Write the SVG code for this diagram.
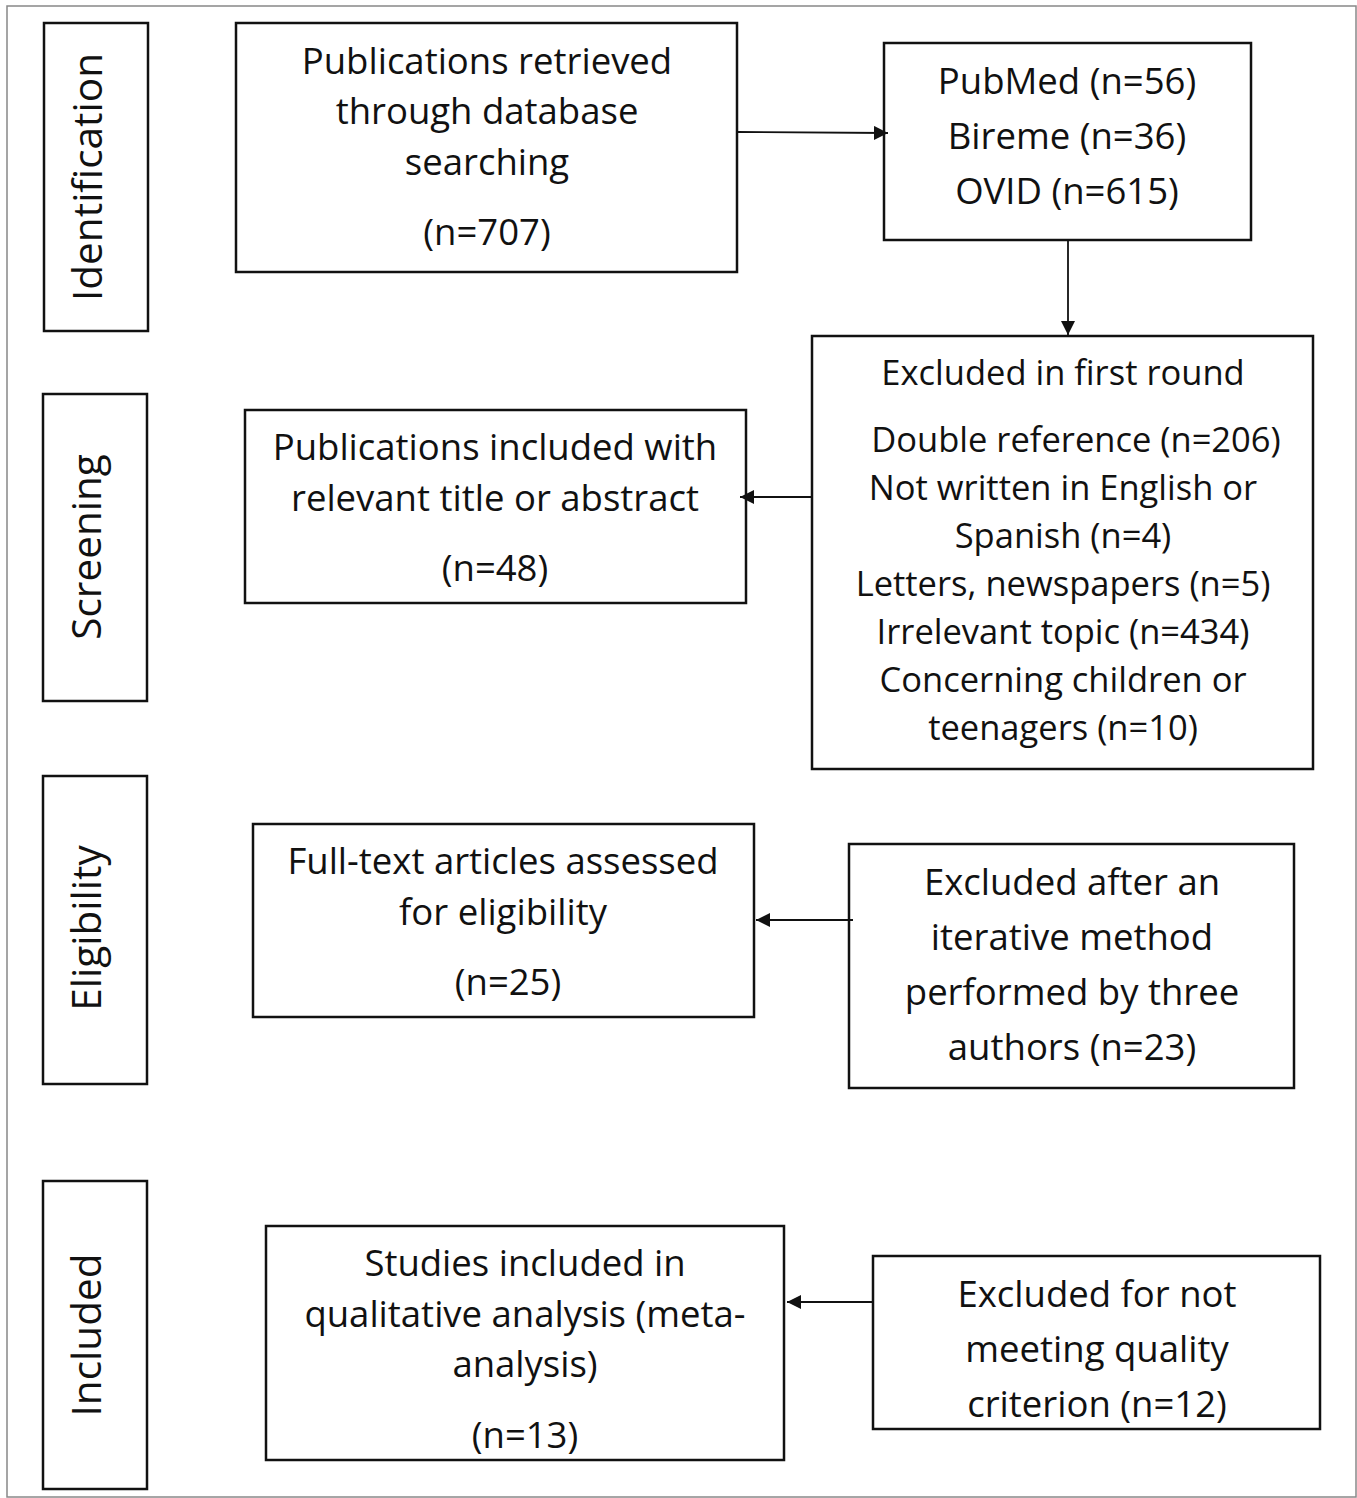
<svg xmlns="http://www.w3.org/2000/svg" width="1357" height="1498" viewBox="0 0 1357 1498">
<style>
.box{fill:#fff;stroke:#111;stroke-width:2.5}
.t{font-family:"Open Sans","Noto Sans",sans-serif;font-size:36.5px;fill:#111;text-anchor:middle;dominant-baseline:central}
.s{font-size:34.5px}
.lab{font-family:"Open Sans","Noto Sans",sans-serif;font-size:40.5px;fill:#111;text-anchor:middle;dominant-baseline:central}
.c{stroke:#111;stroke-width:1.8;fill:none}
</style>
<defs>
<marker id="ah" viewBox="0 0 10 10" refX="10" refY="5" markerWidth="14" markerHeight="14" markerUnits="userSpaceOnUse" orient="auto"><path d="M0,0 L10,5 L0,10 z" fill="#111"/></marker>
</defs>
<rect x="0" y="0" width="1357" height="1498" fill="#fff"/>
<rect x="7" y="6" width="1349" height="1491" fill="none" stroke="#888" stroke-width="1.5"/>
<g id="stage-identification"><rect class="box" x="44" y="23" width="104" height="308"/><text class="lab" transform="translate(86,177) rotate(-90)">Identification</text></g>
<g id="stage-screening"><rect class="box" x="43" y="394" width="104" height="307"/><text class="lab" transform="translate(85,547) rotate(-90)">Screening</text></g>
<g id="stage-eligibility"><rect class="box" x="43" y="776" width="104" height="308"/><text class="lab" transform="translate(85,928) rotate(-90)">Eligibility</text></g>
<g id="stage-included"><rect class="box" x="43" y="1181" width="104" height="308"/><text class="lab" transform="translate(85,1335) rotate(-90)">Included</text></g>
<g id="n-retrieved"><rect class="box" x="236" y="23" width="501" height="249"/>
<text class="t" x="487" y="60">Publications retrieved</text><text class="t" x="487" y="110">through database</text><text class="t" x="487" y="161">searching</text><text class="t" x="487" y="231">(n=707)</text></g>
<g id="n-databases"><rect class="box" x="884" y="43" width="367" height="197"/>
<text class="t" x="1067" y="80">PubMed (n=56)</text><text class="t" x="1067" y="135">Bireme (n=36)</text><text class="t" x="1067" y="190">OVID (n=615)</text></g>
<g id="n-excluded1"><rect class="box" x="812" y="336" width="501" height="433"/>
<text class="t s" x="1063" y="371">Excluded in first round</text>
<text class="t s" x="1076" y="438">Double reference (n=206)</text>
<text class="t s" x="1063" y="486">Not written in English or</text>
<text class="t s" x="1063" y="534">Spanish (n=4)</text>
<text class="t s" x="1063" y="582">Letters, newspapers (n=5)</text>
<text class="t s" x="1063" y="630">Irrelevant topic (n=434)</text>
<text class="t s" x="1063" y="678">Concerning children or</text>
<text class="t s" x="1063" y="726">teenagers (n=10)</text></g>
<g id="n-screened"><rect class="box" x="245" y="410" width="501" height="193"/>
<text class="t" x="495" y="446">Publications included with</text><text class="t" x="495" y="497">relevant title or abstract</text><text class="t" x="495" y="567">(n=48)</text></g>
<g id="n-fulltext"><rect class="box" x="253" y="824" width="501" height="193"/>
<text class="t" x="503" y="860">Full-text articles assessed</text><text class="t" x="503" y="911">for eligibility</text><text class="t" x="508" y="981">(n=25)</text></g>
<g id="n-excluded2"><rect class="box" x="849" y="844" width="445" height="244"/>
<text class="t" x="1072" y="881">Excluded after an</text><text class="t" x="1072" y="936">iterative method</text><text class="t" x="1072" y="991">performed by three</text><text class="t" x="1072" y="1046">authors (n=23)</text></g>
<g id="n-included"><rect class="box" x="266" y="1226" width="518" height="234"/>
<text class="t" x="525" y="1262">Studies included in</text><text class="t" x="525" y="1313">qualitative analysis (meta-</text><text class="t" x="525" y="1363">analysis)</text><text class="t" x="525" y="1434">(n=13)</text></g>
<g id="n-excluded3"><rect class="box" x="873" y="1256" width="447" height="173"/>
<text class="t" x="1097" y="1293">Excluded for not</text><text class="t" x="1097" y="1348">meeting quality</text><text class="t" x="1097" y="1403">criterion (n=12)</text></g>
<g id="connectors">
<line class="c" x1="738" y1="132" x2="888" y2="133" marker-end="url(#ah)"/>
<line class="c" x1="1068" y1="240" x2="1068" y2="335" marker-end="url(#ah)"/>
<line class="c" x1="812" y1="497" x2="740" y2="497" marker-end="url(#ah)"/>
<line class="c" x1="853" y1="920" x2="756" y2="920" marker-end="url(#ah)"/>
<line class="c" x1="873" y1="1302" x2="787" y2="1302" marker-end="url(#ah)"/>
</g>
</svg>
